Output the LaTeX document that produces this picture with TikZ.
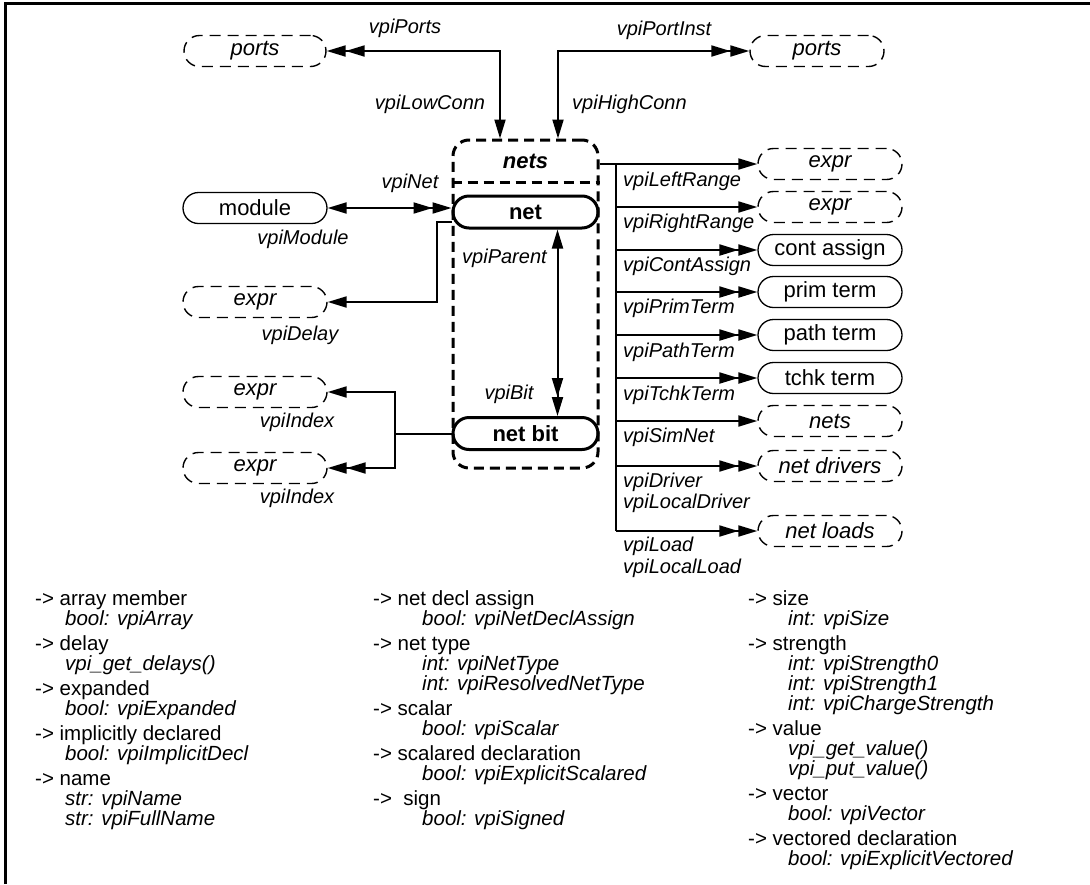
\documentclass[tikz,border=0pt]{standalone}
\usepackage{fontspec}
\setmainfont{Liberation Sans}
\setsansfont{Liberation Sans}
\usetikzlibrary{arrows.meta,calc}
\newcommand\lblfont{\fontsize{20pt}{20pt}\selectfont\itshape}
\newcommand\boxfont{\fontsize{22pt}{24pt}\selectfont}
\newcommand\legfont{\fontsize{20.5pt}{20pt}\selectfont}
\begin{document}
\begin{tikzpicture}[x=1pt,y=-1pt,
  >={Triangle[length=19pt,width=11pt]},
  box/.style={draw, rounded corners=15.5pt, minimum width=144pt, minimum height=31pt, inner sep=0pt, line width=1.3pt, font=\boxfont},
  dbox/.style={box, dash pattern=on 11pt off 7pt, line width=1.4pt, font=\boxfont\itshape},
  bbox/.style={box, line width=3pt, minimum width=145pt, minimum height=32pt, rounded corners=16pt, font=\boxfont\bfseries},
  conn/.style={line width=2pt},
  lbl/.style={font=\lblfont, inner sep=0pt},
  rlbl/.style={lbl, anchor=west},
  leg/.style={font=\legfont, inner sep=0pt, anchor=mid west},
  legi/.style={leg, font=\legfont\itshape},
  ctn/.style={draw, line width=3pt, dash pattern=on 10pt off 6pt},
]
\useasboundingbox (0,0) rectangle (1090,884);
\draw[line width=3pt] (5,884) -- (5,3.5) -- (1090,3.5);

% central container
\node[ctn, rounded corners=16pt, minimum width=145pt, minimum height=328pt, inner sep=0pt] (nets) at (525.5,304) {};
\node[font=\boxfont\bfseries\itshape] (netsl) at (525.5,161) {nets};
\coordinate (dv) at (0,182);
\draw[ctn] (nets.west |- dv) -- (nets.east |- dv);
\node[bbox] (net) at (525.5,212) {net};
\node[bbox] (nb) at (525.5,433.5) {net bit};

% top ports
\node[dbox, minimum width=142pt] (pl) at (255,51) {ports};
\node[dbox, minimum width=134pt] (pr) at (817,51) {ports};

% left nodes
\node[box] (mod) at (255,208) {module};
\node[dbox] (ed) at (255,302) {expr};
\node[dbox] (ei1) at (255,392) {expr};
\node[dbox] (ei2) at (255,468) {expr};

% right nodes
\node[dbox] (r1) at (830,164) {expr};
\node[dbox] (r2) at (830,207) {expr};
\node[box] (r3) at (830,250) {cont assign};
\node[box] (r4) at (830,292) {prim term};
\node[box] (r5) at (830,335) {path term};
\node[box] (r6) at (830,378) {tchk term};
\node[dbox] (r7) at (830,421) {nets};
\node[dbox] (r8) at (830,466) {net drivers};
\node[dbox] (r9) at (830,531) {net loads};

% connectors
\draw[conn,<<->] (pl.east) -| ([xshift=-25.5pt]nets.north);
\draw[conn,<->>] ([xshift=32.5pt]nets.north) |- (pr.west);
\draw[conn,<->>] (mod.east) -- (mod.east -| net.west);
\coordinate (dly) at (437,222);
\draw[conn,->] (nets.west |- dly) -- (dly) |- (ed.east);
\coordinate (ix) at (395,433.5);
\draw[conn] (nb.west) -- (ix);
\draw[conn,->] (ix) |- (ei1.east);
\draw[conn,->>] (ix) |- (ei2.east);
\draw[conn,<->>] ([xshift=32pt]net.south) -- ([xshift=32pt]nb.north);

\coordinate (tr) at (616,164);
\draw[conn,->] (nets.east |- r1) -- (r1.west);
\draw[conn] (tr) -- (tr |- r9);
\draw[conn,->] (tr |- r2) -- (r2.west);
\draw[conn,->>] (tr |- r3) -- (r3.west);
\draw[conn,->>] (tr |- r4) -- (r4.west);
\draw[conn,->>] (tr |- r5) -- (r5.west);
\draw[conn,->>] (tr |- r6) -- (r6.west);
\draw[conn,->] (tr |- r7) -- (r7.west);
\draw[conn,->>] (tr |- r8) -- (r8.west);
\draw[conn,->>] (tr |- r9) -- (r9.west);

% labels
\node[lbl] (lports) at (405,28) {vpiPorts};
\node[lbl] (lpinst) at (664,30) {vpiPortInst};
\node[lbl] (llow) at (430,104) {vpiLowConn};
\node[rlbl] (lhigh) at (572,104) {vpiHighConn};
\node[lbl] (lnet) at (410,183) {vpiNet};
\node[lbl] (lmod) at (303,239) {vpiModule};
\node[lbl] (ldel) at (300,335) {vpiDelay};
\node[lbl] (lix1) at (297,422) {vpiIndex};
\node[lbl] (lix2) at (297,498) {vpiIndex};
\node[rlbl] (lpar) at (462,258) {vpiParent};
\node[lbl] (lbit) at (509,394) {vpiBit};

\node[rlbl] (q1) at (623,181) {vpiLeftRange};
\node[rlbl] (q2) at (623,223) {vpiRightRange};
\node[rlbl] (q3) at (623,266) {vpiContAssign};
\node[rlbl] (q4) at (623,308) {vpiPrimTerm};
\node[rlbl] (q5) at (623,352) {vpiPathTerm};
\node[rlbl] (q6) at (623,395) {vpiTchkTerm};
\node[rlbl] (q7) at (623,437) {vpiSimNet};
\node[rlbl] (q8) at (623,482) {vpiDriver};
\node[rlbl] (q9) at (623,503) {vpiLocalDriver};
\node[rlbl] (q10) at (623,546) {vpiLoad};
\node[rlbl] (q11) at (623,568) {vpiLocalLoad};

% legend column 1
\foreach \yy/\tx [count=\i] in {603/{-> array member},648/{-> delay},693/{-> expanded},738/{-> implicitly declared},783/{-> name}}
  \node[leg] (ha\i) at (35,\yy) {\tx};
\foreach \yy/\tx [count=\i] in {623/{bool: vpiArray},668/{vpi\_get\_delays()},713/{bool: vpiExpanded},758/{bool: vpiImplicitDecl},803/{str: vpiName},823/{str: vpiFullName}}
  \node[legi] (sa\i) at (65,\yy) {\tx};
% legend column 2
\foreach \yy/\tx [count=\i] in {603/{-> net decl assign},648/{-> net type},713/{-> scalar},758/{-> scalared declaration},803/{->\ \ sign}}
  \node[leg] (hb\i) at (373,\yy) {\tx};
\foreach \yy/\tx [count=\i] in {623/{bool: vpiNetDeclAssign},668/{int: vpiNetType},688/{int: vpiResolvedNetType},733/{bool: vpiScalar},778/{bool: vpiExplicitScalared},823/{bool: vpiSigned}}
  \node[legi] (sb\i) at (422,\yy) {\tx};
% legend column 3
\foreach \yy/\tx [count=\i] in {603/{-> size},648/{-> strength},733/{-> value},798/{-> vector},843/{-> vectored declaration}}
  \node[leg] (hc\i) at (748,\yy) {\tx};
\foreach \yy/\tx [count=\i] in {623/{int: vpiSize},668/{int: vpiStrength0},688/{int: vpiStrength1},708/{int: vpiChargeStrength},753/{vpi\_get\_value()},773/{vpi\_put\_value()},818/{bool: vpiVector},863/{bool: vpiExplicitVectored}}
  \node[legi] (sc\i) at (788,\yy) {\tx};
\end{tikzpicture}
\end{document}
